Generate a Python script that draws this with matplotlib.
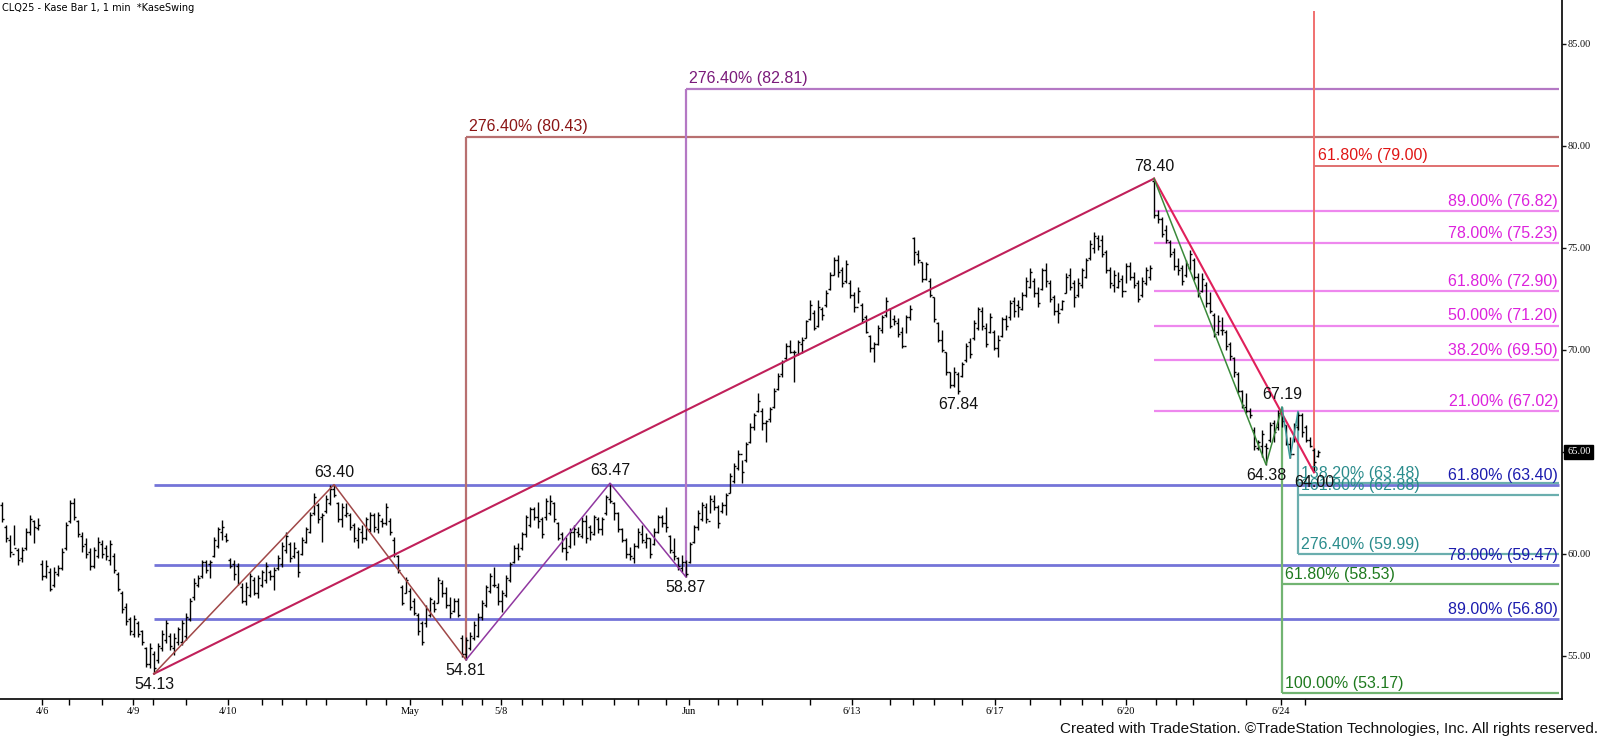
import matplotlib
matplotlib.use('Agg')
import matplotlib.pyplot as plt
import numpy as np

# ---- bar data (Kase bars) ----
bar_high = [
    62.57, 61.42, 60.93, 61.42, 60.28, 60.36, 61.26, 61.91, 61.67, 61.75,
    59.71, 59.71, 59.30, 59.38, 59.46, 60.28, 61.59, 62.65, 62.73, 61.67,
    61.10, 60.77, 60.28, 60.36, 60.85, 60.69, 60.44, 60.69, 60.04, 59.14,
    58.16, 57.58, 56.93, 57.01, 56.69, 56.28, 55.46, 55.62, 55.22, 55.62,
    56.28, 56.77, 56.12, 56.12, 56.44, 56.77, 57.09, 57.83, 58.81, 58.97,
    59.71, 59.71, 59.71, 60.85, 61.34, 61.67, 61.02, 59.79, 59.71, 59.55,
    58.56, 58.65, 59.05, 58.89, 58.97, 59.22, 59.63, 59.22, 59.38, 59.95,
    60.61, 61.10, 60.61, 60.61, 60.20, 60.85, 61.34, 62.08, 62.98, 62.49,
    62.00, 62.89, 63.38, 63.40, 62.57, 62.49, 62.49, 62.00, 61.51, 61.34,
    61.42, 61.83, 62.08, 62.00, 62.08, 61.75, 62.49, 61.75, 60.85, 59.95,
    58.48, 58.89, 58.32, 57.83, 57.09, 56.69, 57.50, 57.91, 57.75, 58.89,
    58.73, 58.40, 57.91, 57.83, 57.83, 56.03, 55.95, 56.19, 56.69, 57.09,
    57.75, 58.48, 59.05, 59.38, 58.56, 58.24, 58.97, 59.63, 60.44, 60.52,
    61.10, 61.91, 62.32, 62.32, 62.57, 61.83, 62.73, 62.89, 62.57, 61.59,
    61.10, 60.85, 61.26, 61.42, 61.34, 61.83, 61.91, 61.42, 61.91, 61.83,
    61.83, 62.89, 63.47, 62.57, 62.08, 61.26, 60.77, 60.36, 60.52, 61.26,
    61.42, 61.01, 60.77, 61.26, 61.91, 61.91, 62.32, 60.93, 60.77, 59.87,
    59.95, 59.71, 60.61, 61.42, 62.16, 62.55, 62.50, 62.89, 62.89, 62.40,
    62.56, 62.97, 63.95, 64.44, 65.10, 64.61, 65.50, 66.40, 66.89, 67.87,
    67.14, 66.57, 67.22, 68.12, 68.85, 69.51, 70.32, 70.49, 70.00, 70.49,
    70.65, 71.47, 72.45, 71.96, 72.45, 72.12, 72.94, 73.84, 74.57, 74.65,
    74.08, 74.41, 73.43, 72.86, 73.10, 72.29, 71.71, 70.73, 70.41, 71.22,
    71.71, 72.61, 72.04, 71.71, 71.55, 71.14, 71.71, 72.20, 75.55, 74.90,
    74.33, 74.33, 73.51, 72.61, 71.39, 70.98, 69.92, 68.94, 69.18, 68.94,
    69.43, 70.32, 70.57, 71.47, 72.12, 72.12, 71.30, 71.79, 70.98, 70.73,
    71.63, 71.71, 72.45, 72.61, 72.45, 72.86, 73.59, 74.00, 73.51, 73.10,
    74.00, 74.24, 73.43, 72.69, 72.28, 72.45, 73.75, 74.00, 73.43, 73.51,
    74.00, 74.49, 75.39, 75.80, 75.63, 75.63, 74.90, 74.08, 73.92, 73.84,
    73.67, 74.24, 74.33, 73.84, 73.43, 73.59, 74.08, 74.16, 78.40, 76.86,
    76.53, 76.12, 75.39, 74.98, 74.49, 74.16, 74.41, 74.90, 74.49, 73.75,
    73.75, 73.35, 72.86, 71.79, 71.71, 71.63, 70.98, 70.40, 69.67, 68.93,
    68.04, 67.87, 67.14, 66.24, 65.58, 66.08, 65.42, 66.49, 66.57, 67.06,
    67.19, 66.32, 65.75, 66.41, 66.98, 66.90, 66.32, 65.75, 65.18, 65.10,
]
bar_low = [
    61.59, 60.61, 59.87, 60.44, 59.46, 59.63, 60.20, 60.93, 60.53, 61.18,
    58.73, 58.80, 58.16, 58.40, 58.90, 59.20, 60.20, 61.50, 61.67, 60.85,
    60.12, 59.79, 59.22, 59.30, 59.79, 59.79, 59.71, 59.46, 59.05, 58.16,
    57.09, 56.52, 56.03, 55.95, 55.95, 55.54, 54.48, 54.40, 54.13, 54.64,
    55.22, 55.62, 55.30, 55.05, 55.54, 55.54, 55.79, 56.69, 57.75, 58.40,
    58.81, 59.05, 58.81, 59.87, 60.28, 60.69, 60.61, 59.30, 58.73, 58.48,
    57.58, 57.50, 57.91, 57.99, 57.83, 58.40, 58.56, 58.73, 58.24, 59.22,
    59.38, 60.04, 59.63, 59.79, 58.89, 59.95, 60.53, 61.02, 61.92, 61.51,
    60.61, 62.00, 62.40, 62.80, 61.59, 61.34, 61.83, 61.18, 60.61, 60.28,
    60.53, 60.69, 61.10, 61.10, 61.02, 61.34, 61.42, 60.93, 59.87, 59.05,
    57.48, 58.07, 57.26, 57.01, 56.03, 55.54, 56.44, 56.93, 57.17, 57.58,
    57.91, 57.34, 56.85, 57.17, 56.93, 54.97, 54.81, 55.30, 55.79, 55.95,
    56.77, 57.42, 58.07, 58.40, 57.50, 57.17, 57.91, 58.65, 59.54, 59.71,
    60.20, 60.85, 61.34, 61.67, 61.26, 60.77, 61.67, 61.91, 61.59, 60.69,
    60.12, 59.71, 60.28, 60.44, 60.85, 60.77, 60.52, 60.69, 60.93, 61.01,
    60.93, 61.91, 62.49, 61.67, 61.10, 60.61, 59.79, 59.71, 59.54, 60.28,
    60.52, 60.28, 59.79, 60.44, 61.01, 61.34, 61.10, 60.03, 59.71, 59.22,
    59.14, 58.87, 59.54, 60.52, 61.18, 61.60, 61.50, 62.00, 62.15, 61.26,
    61.99, 61.91, 62.97, 63.46, 64.12, 63.46, 64.52, 65.42, 66.08, 66.97,
    66.08, 65.50, 66.48, 67.14, 68.04, 68.69, 69.51, 69.83, 68.45, 69.75,
    69.83, 70.57, 71.47, 70.98, 71.14, 71.47, 72.12, 72.94, 73.67, 73.59,
    73.10, 73.27, 72.53, 71.88, 72.29, 71.30, 70.81, 69.92, 69.43, 70.24,
    70.81, 71.63, 71.06, 71.22, 70.65, 70.08, 70.81, 71.47, 74.16, 74.25,
    73.35, 73.43, 72.61, 71.39, 70.41, 69.92, 68.77, 68.12, 68.20, 67.84,
    68.69, 69.43, 69.59, 70.49, 70.98, 70.98, 70.16, 70.81, 69.99, 69.67,
    70.65, 70.98, 71.47, 71.63, 71.63, 71.96, 72.61, 73.02, 72.61, 72.12,
    72.94, 73.10, 72.37, 71.71, 71.30, 71.96, 72.77, 72.94, 72.12, 72.61,
    73.02, 73.51, 74.41, 74.73, 74.90, 74.57, 73.75, 73.02, 72.86, 73.02,
    72.61, 73.26, 73.43, 73.02, 72.37, 72.61, 73.18, 73.43, 76.45, 76.21,
    75.55, 75.22, 74.57, 73.92, 73.67, 73.18, 73.59, 73.92, 73.43, 72.61,
    72.86, 72.12, 71.79, 70.65, 70.73, 70.73, 69.99, 69.51, 68.69, 67.87,
    67.14, 66.89, 66.65, 65.09, 65.09, 64.77, 64.38, 65.51, 65.51, 66.08,
    66.24, 65.34, 64.69, 65.51, 66.08, 65.75, 65.51, 65.26, 64.00, 64.77,
]
bar_open = [
    62.40, 61.30, 60.70, 60.00, 60.20, 59.80, 60.30, 61.10, 61.60, 61.25,
    59.50, 58.90, 59.10, 58.50, 59.00, 59.30, 60.30, 61.60, 62.50, 61.60,
    60.90, 60.50, 60.10, 59.40, 59.90, 60.50, 60.30, 59.70, 59.90, 59.00,
    58.10, 57.40, 56.80, 56.10, 56.60, 56.20, 55.40, 54.60, 55.10, 54.80,
    55.40, 55.80, 56.00, 55.40, 55.70, 55.70, 56.00, 56.80, 57.90, 58.50,
    58.90, 59.60, 59.50, 59.90, 60.40, 61.10, 60.90, 59.70, 59.50, 59.40,
    58.40, 57.70, 58.00, 58.70, 58.10, 58.50, 58.70, 59.10, 58.90, 59.30,
    59.50, 60.20, 60.50, 59.90, 60.10, 60.00, 60.60, 61.10, 62.00, 62.40,
    61.80, 62.10, 62.50, 63.20, 62.50, 61.70, 61.90, 61.90, 61.40, 60.70,
    61.10, 60.80, 61.20, 61.90, 61.20, 61.60, 61.50, 61.60, 60.70, 59.90,
    58.40, 58.10, 58.20, 57.70, 57.00, 56.60, 56.60, 57.00, 57.60, 57.60,
    58.60, 58.10, 57.50, 57.20, 57.70, 55.90, 55.10, 55.40, 55.90, 56.00,
    56.90, 57.50, 58.20, 58.50, 58.40, 57.70, 58.00, 58.70, 59.60, 60.30,
    60.30, 61.00, 61.40, 62.20, 61.80, 61.70, 61.80, 62.00, 62.50, 61.50,
    61.00, 60.30, 60.40, 61.10, 61.10, 60.90, 61.60, 61.30, 61.00, 61.70,
    61.20, 62.00, 62.70, 62.50, 62.00, 61.20, 60.70, 60.00, 59.80, 60.40,
    61.00, 60.60, 60.80, 60.50, 61.10, 61.80, 61.50, 60.90, 60.10, 59.80,
    59.30, 59.60, 59.60, 60.60, 61.30, 61.70, 62.30, 61.60, 62.60, 62.30,
    62.10, 62.40, 63.00, 63.60, 64.20, 64.90, 64.60, 65.50, 66.20, 67.00,
    67.00, 66.40, 66.60, 67.20, 68.10, 68.80, 69.60, 70.20, 69.90, 69.80,
    70.30, 70.60, 71.50, 71.80, 71.20, 72.00, 72.20, 73.00, 73.70, 74.40,
    73.90, 73.40, 73.30, 72.70, 72.10, 72.20, 71.60, 70.70, 70.10, 70.30,
    71.00, 71.70, 72.00, 71.50, 71.30, 70.90, 70.20, 71.60, 75.50, 74.70,
    74.30, 73.50, 73.40, 72.60, 71.30, 70.50, 69.90, 68.90, 68.30, 68.80,
    68.70, 69.50, 70.40, 70.60, 71.10, 71.90, 71.10, 70.90, 70.90, 70.10,
    70.70, 71.50, 71.60, 72.40, 72.20, 72.00, 72.70, 73.10, 73.40, 72.80,
    73.00, 73.90, 73.30, 72.60, 71.90, 72.00, 72.80, 73.70, 73.30, 72.70,
    73.20, 73.60, 74.50, 75.00, 75.50, 75.40, 74.80, 73.90, 73.20, 73.10,
    73.50, 72.90, 74.10, 73.60, 73.30, 72.70, 73.30, 73.60, 78.30, 76.60,
    76.40, 75.90, 75.30, 74.80, 74.10, 74.00, 73.70, 74.00, 74.40, 73.60,
    72.90, 73.20, 72.30, 71.70, 70.90, 71.00, 70.90, 70.30, 69.60, 68.80,
    68.00, 67.20, 67.00, 66.10, 65.20, 65.30, 65.30, 65.60, 66.40, 66.20,
    66.90, 66.30, 65.40, 64.90, 66.20, 66.80, 66.20, 65.60, 65.10, 64.80,
]
bar_close = [
    61.70, 60.80, 60.10, 60.30, 59.70, 60.20, 61.10, 61.70, 61.30, 61.40,
    58.90, 59.40, 58.30, 59.10, 59.30, 60.10, 61.40, 62.50, 61.80, 61.00,
    60.40, 60.00, 59.40, 60.20, 60.60, 60.00, 59.90, 60.50, 59.20, 58.30,
    57.30, 56.70, 56.20, 56.80, 56.10, 55.70, 54.60, 55.40, 54.40, 55.50,
    56.10, 56.60, 55.50, 55.90, 56.30, 56.60, 56.90, 57.70, 58.60, 58.80,
    59.60, 59.20, 59.60, 60.70, 61.20, 61.30, 60.70, 59.40, 59.00, 58.60,
    57.70, 58.40, 58.90, 58.10, 58.80, 59.10, 59.40, 58.90, 59.20, 59.80,
    60.40, 60.90, 59.80, 60.30, 59.10, 60.70, 61.20, 61.90, 62.80, 61.70,
    61.90, 62.70, 63.20, 62.90, 61.70, 62.30, 62.00, 61.30, 60.80, 61.20,
    60.80, 61.70, 61.90, 61.30, 61.90, 61.50, 62.30, 61.10, 60.00, 59.20,
    57.60, 58.70, 57.40, 57.10, 56.20, 55.70, 57.30, 57.80, 57.30, 58.70,
    58.10, 57.50, 57.10, 57.70, 57.00, 55.10, 55.80, 56.00, 56.50, 56.90,
    57.60, 58.40, 58.90, 58.50, 57.70, 58.10, 58.80, 59.50, 60.30, 59.90,
    61.00, 61.80, 62.20, 61.80, 61.60, 61.00, 62.60, 62.60, 61.70, 60.80,
    60.30, 60.10, 61.10, 61.20, 61.00, 61.60, 60.80, 61.10, 61.80, 61.20,
    61.70, 62.80, 62.60, 62.00, 61.20, 60.70, 60.00, 59.90, 60.40, 61.10,
    60.70, 60.80, 60.00, 61.10, 61.80, 61.50, 61.30, 60.20, 59.90, 59.40,
    59.60, 59.00, 60.50, 61.30, 62.00, 62.40, 61.70, 62.70, 62.30, 61.50,
    62.40, 62.90, 63.80, 64.30, 64.90, 64.00, 65.40, 66.20, 66.80, 67.50,
    66.40, 66.50, 67.10, 68.00, 68.70, 69.40, 70.20, 69.90, 69.90, 70.40,
    70.50, 71.40, 72.20, 71.10, 72.10, 71.70, 72.80, 73.70, 74.40, 73.80,
    73.30, 74.20, 72.70, 72.10, 72.90, 71.50, 70.90, 70.10, 70.30, 71.10,
    71.60, 72.40, 71.20, 71.40, 70.80, 70.20, 71.60, 72.00, 74.80, 74.40,
    73.50, 74.20, 72.70, 71.50, 70.50, 70.00, 68.90, 68.30, 68.90, 68.00,
    69.30, 70.20, 69.80, 71.30, 72.00, 71.20, 70.30, 71.60, 70.10, 70.50,
    71.50, 71.20, 72.30, 71.90, 72.10, 72.70, 73.40, 73.80, 72.80, 72.30,
    73.90, 73.40, 72.50, 71.90, 71.80, 72.40, 73.60, 73.10, 72.60, 73.30,
    73.90, 74.40, 75.20, 75.60, 75.10, 74.70, 73.90, 73.30, 73.70, 73.40,
    72.90, 74.10, 73.60, 73.20, 72.50, 73.40, 73.90, 74.00, 76.60, 76.40,
    75.70, 75.40, 74.70, 74.10, 73.90, 73.40, 74.20, 74.70, 73.60, 72.80,
    73.50, 72.30, 71.90, 70.80, 71.40, 71.00, 70.20, 69.70, 68.90, 68.00,
    67.30, 67.00, 66.80, 65.30, 65.50, 65.90, 65.20, 66.30, 66.00, 66.90,
    66.50, 65.40, 64.90, 66.30, 66.80, 66.00, 65.60, 65.30, 64.50, 65.00,
]
last_price = 65.00

# swing points (bar index, price, label above?)
swing_bar = [38, 83, 116, 152, 171, 239, 288, 316, 320, 328]
swing_price = [54.13, 63.40, 54.81, 63.47, 58.87, 67.84, 78.40, 64.38, 67.19, 64.00]
swing_up = [False, True, False, True, False, False, True, False, True, False]

# fib levels
blue_levels = [63.40, 59.47, 56.80]
blue_pcts = ['61.80%', '78.00%', '89.00%']
mag_levels = [76.82, 75.23, 72.90, 71.20, 69.50, 67.02]
mag_pcts = ['89.00%', '78.00%', '61.80%', '50.00%', '38.20%', '21.00%']
teal_levels = [63.48, 62.88, 59.99]
teal_pcts = ['138.20%', '161.80%', '276.40%']
green_levels = [58.53, 53.17]
green_pcts = ['61.80%', '100.00%']
brown_level, purple_level, red_level = 80.43, 82.81, 79.00
red_top = 86.6
teal_swing = [(320, 67.19), (322, 64.69), (324, 66.98)]

tick_pos = [10, 16.75, 25, 32.75, 37.75, 46, 56.5, 65, 70, 76, 81, 91, 96, 102,
            110, 115, 120, 124.75, 130, 135, 140.25, 145, 153, 159, 166, 171.75,
            179, 183.75, 190, 202, 212.5, 222, 227.75, 233, 240, 248.25, 257,
            264.5, 270, 275, 281, 288.5, 293.5, 297.75, 311, 319.75, 325.75]
date_pos = [10, 32.75, 56.5, 102, 124.75, 171.75, 212.5, 248.25, 281, 319.75]
date_lbl = ['4/6', '4/9', '4/10', 'May', '5/8', 'Jun', '6/13', '6/17', '6/20', '6/24']

# ---- figure ----
fig = plt.figure(figsize=(16, 7.39), dpi=100)
ax = fig.add_axes([0, 40 / 739, 1562 / 1600, 699 / 739])
XR = 389.25
ax.set_xlim(-0.5, 390)
ax.set_ylim(52.89, 87.157)

idx = np.arange(len(bar_high))
lab_font = dict(family='Liberation Sans', fontsize=11.5)

# blue retracement lines
for lv, pc in zip(blue_levels, blue_pcts):
    ax.hlines(lv, 38, XR, color='#7474d8', lw=2.0, zorder=1)
    ax.text(389, lv + 0.1, f'{pc} ({lv:.2f})', color='#1c1cae', ha='right', va='bottom', **lab_font)

# magenta retracement lines
for lv, pc in zip(mag_levels, mag_pcts):
    ax.hlines(lv, 288, XR, color='#ee88ee', lw=1.6, zorder=1)
    ax.text(389, lv + 0.1, f'{pc} ({lv:.2f})', color='#dd22dd', ha='right', va='bottom', **lab_font)

# brown and purple projections
ax.vlines(116, 54.81, brown_level, color='#b87070', lw=1.6, zorder=1)
ax.hlines(brown_level, 116, XR, color='#b87070', lw=1.6, zorder=1)
ax.text(116.8, brown_level + 0.15, '276.40% (80.43)', color='#8b1515', ha='left', va='bottom', **lab_font)
ax.vlines(171, 58.87, purple_level, color='#b478c4', lw=1.6, zorder=1)
ax.hlines(purple_level, 171, XR, color='#b478c4', lw=1.6, zorder=1)
ax.text(171.8, purple_level + 0.15, '276.40% (82.81)', color='#7a1a7a', ha='left', va='bottom', **lab_font)

# red projection
ax.vlines(328, 64.00, red_top, color='#f07070', lw=1.4, zorder=1)
ax.hlines(red_level, 328, XR, color='#e07070', lw=1.4, zorder=1)
ax.text(329, red_level + 0.15, '61.80% (79.00)', color='#e01515', ha='left', va='bottom', **lab_font)

# green projection
ax.vlines(320, 53.17, 67.19, color='#72b472', lw=1.6, zorder=1)
for lv, pc in zip(green_levels, green_pcts):
    ax.hlines(lv, 320, XR, color='#72b472', lw=1.6, zorder=1)
    ax.text(320.8, lv + 0.12, f'{pc} ({lv:.2f})', color='#1f7a1f', ha='left', va='bottom', **lab_font)

# teal projection
ax.vlines(324, 59.99, 66.98, color='#6aaeae', lw=1.6, zorder=1)
for lv, pc in zip(teal_levels, teal_pcts):
    ax.hlines(lv, 324, XR, color='#6aaeae', lw=1.6, zorder=1)
    ax.text(324.8, lv + 0.12, f'{pc} ({lv:.2f})', color='#2a8c8c', ha='left', va='bottom', **lab_font)

# swing lines
sp = dict(zip(swing_bar, swing_price))
ax.plot([38, 288], [sp[38], sp[288]], color='#c0205a', lw=1.5, zorder=3)
ax.plot([288, 328], [sp[288], sp[328]], color='#e0205a', lw=1.5, zorder=3)
ax.plot([38, 83, 116], [sp[38], sp[83], sp[116]], color='#a04848', lw=1.1, zorder=3)
ax.plot([116, 152, 171], [sp[116], sp[152], sp[171]], color='#9038a0', lw=1.1, zorder=3)
ax.plot([288, 316, 320], [sp[288], sp[316], sp[320]], color='#3a8a3a', lw=1.1, zorder=3)
ax.plot([p[0] for p in teal_swing], [p[1] for p in teal_swing], color='#3a9a9a', lw=1.1, zorder=3)

# OHLC bars
ax.vlines(idx, bar_low, bar_high, color='black', lw=1.0, zorder=2)
ax.hlines(bar_open, idx - 0.55, idx, color='black', lw=1.0, zorder=2)
ax.hlines(bar_close, idx, idx + 0.55, color='black', lw=1.0, zorder=2)

# swing labels
for b, p, up in zip(swing_bar, swing_price, swing_up):
    ax.annotate(f'{p:.2f}', xy=(b, p), xytext=(0, 5 if up else -3), textcoords='offset pixels',
                ha='center', va='bottom' if up else 'top', color='#111111', zorder=5, **lab_font)

# axes styling
for s in ['top', 'left']:
    ax.spines[s].set_visible(False)
ax.spines['bottom'].set_linewidth(1.2)
ax.spines['right'].set_linewidth(1.2)
ax.yaxis.tick_right()
ax.set_yticks([55, 60, 65, 70, 75, 80, 85])
ax.set_yticklabels(['55.00', '60.00', '', '70.00', '75.00', '80.00', '85.00'])
ax.tick_params(axis='y', direction='out', length=3, width=1, pad=1, labelsize=7.5, colors='#111111')
ax.set_xticks(tick_pos)
ax.set_xticklabels([date_lbl[date_pos.index(t)] if t in date_pos else '' for t in tick_pos])
ax.tick_params(axis='x', direction='out', length=4, width=1, pad=2, labelsize=7.5)
for t in ax.get_xticklabels() + ax.get_yticklabels():
    t.set_family('Liberation Serif')

# last price tag
ax.annotate(f'{last_price:.2f}', xy=(1.0, last_price), xycoords=('axes fraction', 'data'),
            xytext=(5, 0), textcoords='offset pixels', ha='left', va='center', color='white',
            fontsize=7.5, family='Liberation Serif',
            bbox=dict(boxstyle='square,pad=0.25', fc='black', ec='black'), annotation_clip=False)

fig.text(2 / 1600, 1 - 8 / 739, 'CLQ25 - Kase Bar 1, 1 min  *KaseSwing', fontsize=7,
         family='DejaVu Sans', ha='left', va='center')
fig.text(1598 / 1600, 1 - 729 / 739,
         'Created with TradeStation. \u00a9TradeStation Technologies, Inc. All rights reserved.',
         fontsize=11, family='Liberation Sans', ha='right', va='center', color='#111111')

fig.savefig('out.png', dpi=100)
